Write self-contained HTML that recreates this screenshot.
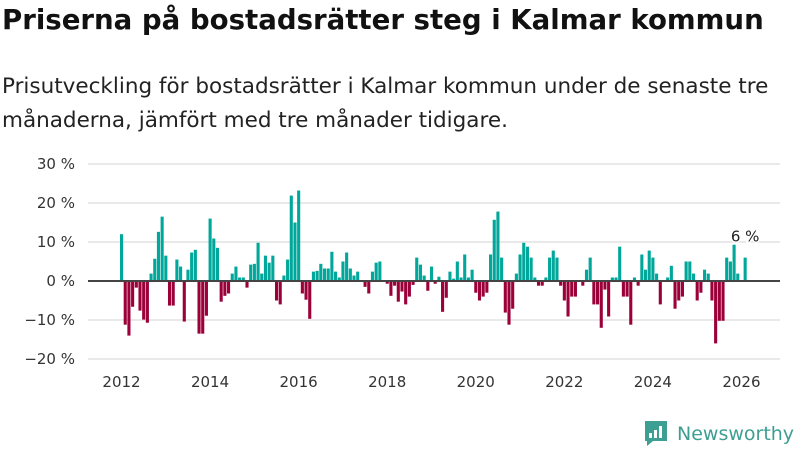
<!DOCTYPE html>
<html><head><meta charset="utf-8"><style>
body{margin:0;width:800px;height:450px;background:#fff;font-family:"DejaVu Sans","Liberation Sans",sans-serif;overflow:hidden;position:relative}
#title{position:absolute;left:2px;top:3px;font-size:27.6px;font-weight:bold;color:#111;margin:0;white-space:nowrap;letter-spacing:0px}
#sub{position:absolute;left:2px;top:70px;font-size:21.5px;line-height:34px;color:#222;white-space:nowrap;letter-spacing:0px}
svg{position:absolute;left:0;top:0}
</style></head><body>
<h1 id="title">Priserna på bostadsrätter steg i Kalmar kommun</h1>
<div id="sub">Prisutveckling för bostadsrätter i Kalmar kommun under de senaste tre<br>månaderna, jämfört med tre månader tidigare.</div>
<svg id="chart" width="800" height="450"></svg>
<script>
const startYear = 2012;
const values = [12,-11.2,-14,-6.6,-1.7,-7.6,-9.9,-10.7,1.9,5.7,12.6,16.5,6.5,-6.3,-6.3,5.5,3.7,-10.4,2.9,7.3,8,-13.5,-13.5,-8.9,16,10.9,8.5,-5.3,-3.8,-3.2,1.9,3.7,0.9,0.9,-1.7,4.2,4.4,9.8,1.9,6.5,4.7,6.5,
-5,-6,1.4,5.5,21.9,15,23.2,-3.2,-4.8,-9.7,2.4,2.6,4.4,3.2,3.2,7.5,2.4,0.9,5,7.3,3.2,1.4,2.4,0,-1.5,-3.2,2.4,4.7,5,0,-0.7,-3.8,-1.2,-5.3,-2.7,-6,-4,-1,6,4.2,1.4,-2.5,3.7,-0.7,1.1,
-7.9,-4.3,2.4,0.6,5,0.9,6.8,0.9,2.9,-3,-5,-4,-3,6.8,15.7,17.8,6,-8.1,-11.2,-7.1,1.9,6.8,9.8,8.8,6,0.9,-1.2,-1.2,0.9,6,7.8,6,-1.2,-5,-9.1,-4,-4,0,-1.2,2.9,6,
-6,-6,-12,-2.2,-9.1,0.9,0.9,8.8,-4,-4,-11.2,0.9,-1.2,6.8,2.9,7.8,6,1.9,-6,0,0.9,3.9,-7.1,-5,-4,5,5,1.9,-5,-3,2.9,1.9,-5,-16,-10.2,-10.2,6,5,9.3,1.9,0,6];
const yTicks = [30,20,10,0,-10,-20];
const yTickLabelsAll = ["30 %","20 %","10 %","0 %","−10 %","−20 %"];
const xTicks = [2012,2014,2016,2018,2020,2022,2024,2026];
const lastLabel = "6 %";

const NS="http://www.w3.org/2000/svg";
const FONT='DejaVu Sans, Liberation Sans, sans-serif';
const svg=document.getElementById('chart');
function y(v){return 281 - v*3.9;}
function xMonth(i){return 121.5 + i*3.69;}
function xYear(yr){return xMonth((yr-startYear)*12);}
function mk(tag,attrs,parent){const e=document.createElementNS(NS,tag);for(const k in attrs)e.setAttribute(k,attrs[k]);(parent||svg).appendChild(e);return e;}

yTicks.forEach((t,i)=>{
  if(t!==0){const g=mk('line',{x1:88,x2:780,y1:y(t),y2:y(t),stroke:'#e2e2e2','stroke-width':1.5});
  
  }
  const tx=mk('text',{x:75,y:y(t)+5,'text-anchor':'end','font-size':15,fill:'#333','font-family':FONT});
  tx.textContent=yTickLabelsAll[i];
  
  
});
xTicks.forEach(t=>{
  const tx=mk('text',{x:xYear(t),y:387,'text-anchor':'middle','font-size':15,fill:'#333','font-family':FONT});
  tx.textContent=t;
  
  
});
values.forEach((v,i)=>{
  const cx=xMonth(i);
  const r=mk('rect',{x:cx-1.5,width:3.1,y:Math.min(y(v),y(0)),height:Math.abs(y(v)-y(0)),fill:v>=0?'#00a79a':'#9b0039'});
  
  
});
const z=mk('line',{x1:88,x2:780,y1:y(0),y2:y(0),stroke:'#444','stroke-width':2});


const li=values.length-1;
const lb=mk('text',{x:xMonth(li),y:y(values[li])-16,'text-anchor':'middle','font-size':15,fill:'#222','font-family':FONT,stroke:'#fff','stroke-width':3,'paint-order':'stroke'});
lb.textContent=lastLabel;



const logo=mk('g',{});


mk('path',{d:'M645 421 h22 v20 h-14 l-6 5 v-5 h-2 z',fill:'#3d9e92'},logo);
mk('rect',{x:649,y:433,width:3,height:5,fill:'#fff'},logo);
mk('rect',{x:654,y:430,width:3,height:8,fill:'#fff'},logo);
mk('rect',{x:659,y:426,width:3,height:12,fill:'#fff'},logo);
const lt=mk('text',{x:677,y:440,'font-size':19,fill:'#3d9e92','font-family':FONT},logo);
lt.textContent='Newsworthy';
</script>
</body></html>
